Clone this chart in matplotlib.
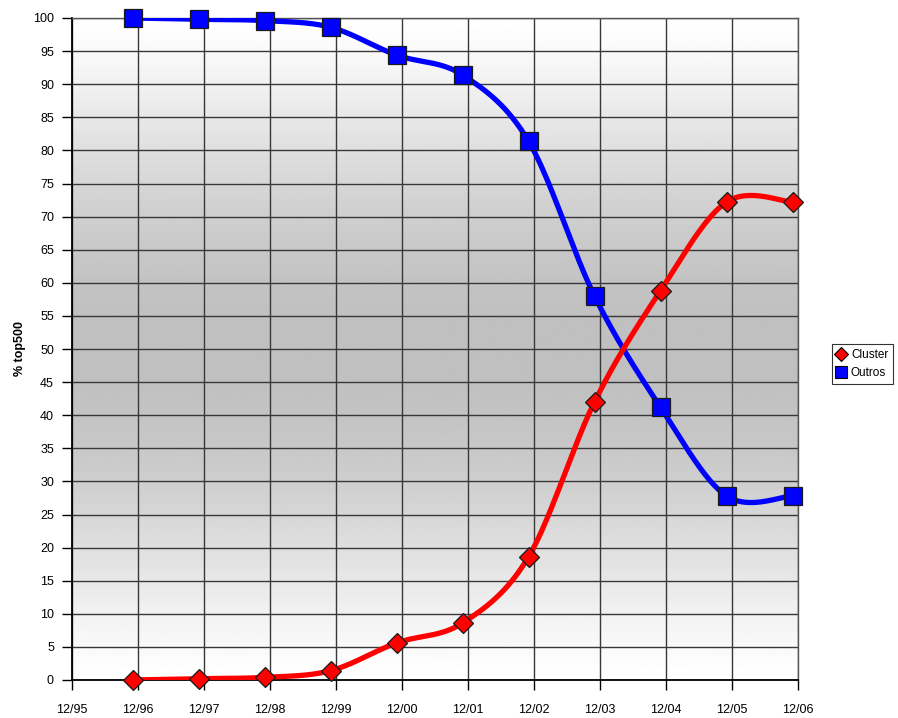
import numpy as np
import matplotlib.pyplot as plt
from matplotlib.lines import Line2D

# top500 november lists, share of systems (%)
years = [1996, 1997, 1998, 1999, 2000, 2001, 2002, 2003, 2004, 2005, 2006]
cluster = [0.0, 0.2, 0.4, 1.4, 5.6, 8.6, 18.6, 42.0, 58.8, 72.2, 72.2]
outros = [100.0, 99.8, 99.6, 98.6, 94.4, 91.4, 81.4, 58.0, 41.2, 27.8, 27.8]
tick_years = list(range(1995, 2007))
tick_labels = ["12/%02d" % (y % 100) for y in tick_years]

plt.rcParams["font.family"] = ["Liberation Sans", "DejaVu Sans"]


def smooth(xs, ys, n=40):
    # excel-like smoothed line: cubic bezier with catmull-rom control points
    p = np.column_stack([xs, ys])
    p = np.vstack([p[0], p, p[-1]])
    out = []
    for i in range(1, len(p) - 2):
        p0, p1, p2, p3 = p[i - 1], p[i], p[i + 1], p[i + 2]
        c1 = p1 + (p2 - p0) / 6
        c2 = p2 - (p3 - p1) / 6
        t = np.linspace(0, 1, n)[:, None]
        seg = ((1 - t) ** 3) * p1 + 3 * ((1 - t) ** 2) * t * c1 + 3 * (1 - t) * t ** 2 * c2 + t ** 3 * p2
        out.append(seg if i == 1 else seg[1:])
    seg = np.vstack(out)
    return seg[:, 0], seg[:, 1]


# data points sit in november, ticks at december
xd = [y + 11 / 12 - 1 / 12 for y in years]
xt = [y + 11 / 12 for y in tick_years]

fig = plt.figure(figsize=(8.98, 7.18), dpi=100)
ax = fig.add_axes([72 / 898, 38 / 718, 726 / 898, 662 / 718])

# vertical gradient background: light at top and bottom, gray in the middle
g = np.linspace(0, 1, 256)
shade = 1 - 0.25 * np.sin(np.pi * g) ** 1.3
ax.imshow(shade[:, None], cmap="gray", vmin=0, vmax=1, aspect="auto",
          extent=[0, 1, 0, 1], transform=ax.transAxes, zorder=0)

ax.set_xlim(xt[0], xt[-1])
ax.set_ylim(0, 100)

sx, sy = smooth(xd, outros)
ax.plot(sx, sy, color="#0000ff", lw=3.8, zorder=3, solid_capstyle="round")
ax.plot(xd, outros, ls="none", marker="s", ms=13, mfc="#0000ff", mec="#1a1a1a",
        mew=0.9, zorder=4, clip_on=False)
sx, sy = smooth(xd, cluster)
ax.plot(sx, sy, color="#ff0000", lw=3.8, zorder=5, solid_capstyle="round")
ax.plot(xd, cluster, ls="none", marker="D", ms=10.5, mfc="#ff0000", mec="#1a1a1a",
        mew=0.9, zorder=6, clip_on=False)

ax.set_xticks(xt)
ax.set_xticklabels(tick_labels)
ax.set_yticks(range(0, 101, 5))
ax.tick_params(axis="both", labelsize=9, length=7, width=1, color="black", direction="out")
ax.tick_params(axis="y", pad=6)
ax.tick_params(axis="x", pad=10)
ax.grid(True, color="#383838", lw=1, zorder=1)
for s in ["top", "right"]:
    ax.spines[s].set_color("#555555")
    ax.spines[s].set_linewidth(1)
for s in ["left", "bottom"]:
    ax.spines[s].set_color("black")
    ax.spines[s].set_linewidth(1.3)
for gl in ax.get_xgridlines() + ax.get_ygridlines():
    gl.set_zorder(1)

ax.set_ylabel("% top500", fontsize=9, fontweight="bold", labelpad=5)

handles = [
    Line2D([], [], ls="none", marker="D", ms=7, mfc="#ff0000", mec="black", mew=0.8),
    Line2D([], [], ls="none", marker="s", ms=9, mfc="#0000ff", mec="black", mew=0.8),
]
leg = fig.legend(handles, ["Cluster", "Outros"], loc="center left",
                 bbox_to_anchor=(832 / 898, 1 - 364 / 718), fontsize=8.5,
                 frameon=True, fancybox=False, edgecolor="black", handlelength=0.8,
                 handletextpad=0.4, borderpad=0.4, labelspacing=0.5, borderaxespad=0)
leg.get_frame().set_linewidth(0.8)

fig.savefig("out.png", dpi=100)
